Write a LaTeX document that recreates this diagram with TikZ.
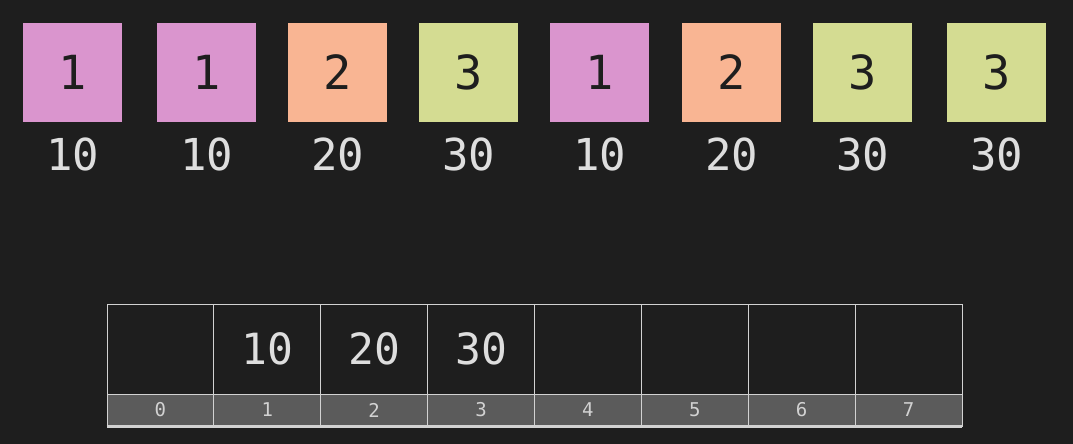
\documentclass[tikz,border=0pt]{standalone}
\usepackage{fontspec}
\newfontfamily\monofont{DejaVu Sans Mono}
\definecolor{bg}{HTML}{1E1E1E}
\definecolor{pinkbox}{HTML}{DA95CE}
\definecolor{orangebox}{HTML}{F9B593}
\definecolor{greenbox}{HTML}{D4DC92}
\definecolor{textlight}{HTML}{DEDEDE}
\definecolor{gridline}{HTML}{D2D2D2}
\definecolor{idxfill}{HTML}{5B5B5B}
\tikzset{
	keybox/.style = {rectangle, minimum size = 99pt, inner sep = 0, text = bg,
		font = \monofont\fontsize{47}{47}\selectfont},
	valtext/.style = {text = textlight, inner sep = 0,
		font = \monofont\fontsize{44}{44}\selectfont},
	cell/.style = {rectangle, draw = gridline, line width = .8pt, minimum width = 106.875pt,
		minimum height = 90pt, inner sep = 0, text = textlight,
		font = \monofont\fontsize{43}{43}\selectfont},
	idxcell/.style = {rectangle, draw = gridline, fill = idxfill, line width = .8pt,
		minimum width = 106.875pt, minimum height = 32pt, inner sep = 0, text = gridline,
		font = \monofont\fontsize{19}{19}\selectfont}
}
\begin{document}
\begin{tikzpicture}[x = 1pt, y = -1pt]
	\useasboundingbox [fill = bg] (0, 0) rectangle (1073, 444);
	% input elements: key on top, value underneath
	\foreach \i/\x/\k/\v/\c in {0/72.5/1/10/pinkbox, 1/206.5/1/10/pinkbox, 2/337.5/2/20/orangebox,
		3/468.5/3/30/greenbox, 4/599.5/1/10/pinkbox, 5/731.5/2/20/orangebox,
		6/862.5/3/30/greenbox, 7/996.5/3/30/greenbox}{
		\node [keybox, fill = \c] (box\i) at (\x, 72.5) {\k};
		\node [valtext] (val\i) at (\x, 154) {\v};
	};
	% output array
	\foreach \j/\v in {0/, 1/10, 2/20, 3/30, 4/, 5/, 6/, 7/}{
		\node [cell] (cell\j) at (107 + 106.875*\j + 53.4375, 349) {\v};
		\node [idxcell] (idx\j) at (107 + 106.875*\j + 53.4375, 410) {\j};
	};
\draw [gridline, line width = 2.5pt] (idx0.south west) -- (idx7.south east);
\end{tikzpicture}
\end{document}
